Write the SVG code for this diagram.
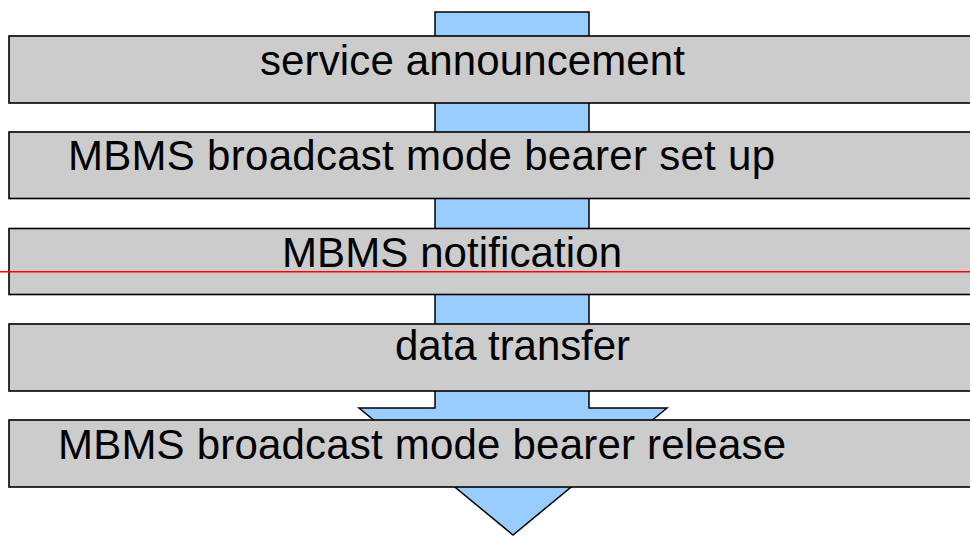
<svg xmlns="http://www.w3.org/2000/svg" width="970" height="536" viewBox="0 0 970 536">
<style>
.box{fill:#cccccc;stroke:#000;stroke-width:1.6}
.lbl{font-family:"Liberation Sans",Arial,sans-serif;font-size:42px;fill:#000}
.arrow{fill:#99ccff;stroke:#000;stroke-width:1.5;stroke-linejoin:miter}
</style>
<rect width="970" height="536" fill="#ffffff"/>
<g id="connectors">
<path class="arrow" d="M435,12 H589 V408 H667 L513,535 L359,408 H435 Z"/>
</g>
<g id="n1">
<rect class="box" x="9" y="36" width="975" height="67"/>
<text class="lbl" x="260" y="75" textLength="425" lengthAdjust="spacing">service announcement</text>
</g>
<g id="n2">
<rect class="box" x="9" y="132" width="975" height="66.5"/>
<text class="lbl" x="68" y="170" textLength="707" lengthAdjust="spacing">MBMS broadcast mode bearer set up</text>
</g>
<g id="n3">
<rect class="box" x="9" y="228.5" width="975" height="66"/>
<text class="lbl" x="282" y="267" textLength="340" lengthAdjust="spacing">MBMS notification</text>
</g>
<g id="n4">
<rect class="box" x="9" y="324" width="975" height="67"/>
<text class="lbl" x="395" y="360" textLength="235" lengthAdjust="spacing">data transfer</text>
</g>
<g id="n5">
<rect class="box" x="9" y="420" width="975" height="67"/>
<text class="lbl" x="58" y="459" textLength="728" lengthAdjust="spacing">MBMS broadcast mode bearer release</text>
</g>
<line x1="0" y1="271.7" x2="970" y2="271.7" stroke="#ff0000" stroke-width="1.5"/>
</svg>
